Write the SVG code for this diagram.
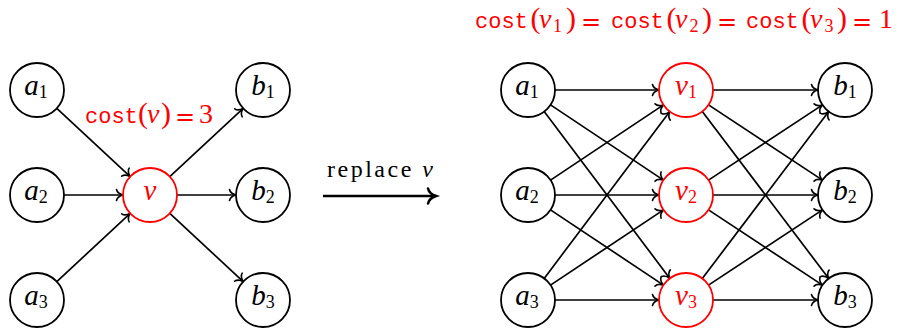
<svg xmlns="http://www.w3.org/2000/svg" width="899" height="330" viewBox="0 0 899 330">
<style>
.n circle{fill:#fff;stroke:#000;stroke-width:1.8}
.n.r circle{stroke:#f00}
.n text{font-family:"Liberation Serif","DejaVu Serif",serif;font-style:italic;font-size:29px;text-anchor:middle;fill:#000}
.n.r text{fill:#f00}
.n text tspan.s{font-style:normal;font-size:18px}
.e line{stroke:#000;stroke-width:1.7;fill:none;marker-end:url(#ar)}
.lab{font-family:"Liberation Serif","DejaVu Serif",serif;font-size:28px;fill:#f00}
.mono{font-family:"Liberation Mono","DejaVu Sans Mono",monospace;font-size:22px}
.p{font-size:30px}
.it{font-style:italic}
.sub{font-size:18px}
.eq{font-family:"DejaVu Sans",sans-serif;font-size:24px}
.rep{font-family:"Liberation Serif","DejaVu Serif",serif;font-size:24px;fill:#000}
</style>
<defs>
<marker id="ar" markerUnits="userSpaceOnUse" markerWidth="16" markerHeight="16" viewBox="-10 -8 12 16" refX="0" refY="0" orient="auto" overflow="visible">
<path d="M-6.5,-5.5 C-5.8,-2.2 -2.2,-0.6 0,0 C-2.2,0.6 -5.8,2.2 -6.5,5.5" fill="none" stroke="#000" stroke-width="1.6" stroke-linecap="round"/>
</marker>
<marker id="ar2" markerUnits="userSpaceOnUse" markerWidth="20" markerHeight="20" viewBox="-14 -10 16 20" refX="0" refY="0" orient="auto" overflow="visible">
<path d="M-8,-7.5 C-7,-3 -2.5,-0.8 0,0 C-2.5,0.8 -7,3 -8,7.5" fill="none" stroke="#000" stroke-width="2.5" stroke-linecap="round"/>
</marker>
</defs>

<g id="connectors" class="e">
<line x1="56.8" y1="108.4" x2="130.2" y2="176.6"/>
<line x1="64" y1="195" x2="123" y2="195"/>
<line x1="56.8" y1="281.6" x2="130.2" y2="213.4"/>
<line x1="169.8" y1="176.6" x2="243.2" y2="108.4"/>
<line x1="177" y1="195" x2="236" y2="195"/>
<line x1="169.8" y1="213.4" x2="243.2" y2="281.6"/>

<line x1="555" y1="90" x2="659" y2="90"/>
<line x1="550.5" y1="104.9" x2="663.5" y2="180.1"/>
<line x1="544.2" y1="111.6" x2="669.8" y2="278.4"/>
<line x1="550.5" y1="180.1" x2="663.5" y2="104.9"/>
<line x1="555" y1="195" x2="659" y2="195"/>
<line x1="550.5" y1="209.9" x2="663.5" y2="285.1"/>
<line x1="544.2" y1="278.4" x2="669.8" y2="111.6"/>
<line x1="550.5" y1="285.1" x2="663.5" y2="209.9"/>
<line x1="555" y1="300" x2="659" y2="300"/>

<line x1="713" y1="90" x2="818" y2="90"/>
<line x1="708.5" y1="104.9" x2="822.5" y2="180.1"/>
<line x1="702.3" y1="111.5" x2="828.7" y2="278.5"/>
<line x1="708.5" y1="180.1" x2="822.5" y2="104.9"/>
<line x1="713" y1="195" x2="818" y2="195"/>
<line x1="708.5" y1="209.9" x2="822.5" y2="285.1"/>
<line x1="702.3" y1="278.5" x2="828.7" y2="111.5"/>
<line x1="708.5" y1="285.1" x2="822.5" y2="209.9"/>
<line x1="713" y1="300" x2="818" y2="300"/>

<line x1="323" y1="196" x2="436" y2="196" style="stroke-width:2.5;marker-end:url(#ar2)"/>
</g>

<g id="L_a1" class="n"><circle cx="37" cy="90" r="27"/><text x="36" y="95">a<tspan class="s" dy="3">1</tspan></text></g>
<g id="L_a2" class="n"><circle cx="37" cy="195" r="27"/><text x="36" y="200">a<tspan class="s" dy="3">2</tspan></text></g>
<g id="L_a3" class="n"><circle cx="37" cy="300" r="27"/><text x="36" y="305">a<tspan class="s" dy="3">3</tspan></text></g>
<g id="L_v" class="n r"><circle cx="150" cy="195" r="27"/><text x="150" y="200">v</text></g>
<g id="L_b1" class="n"><circle cx="263" cy="90" r="27"/><text x="263" y="95">b<tspan class="s" dy="3">1</tspan></text></g>
<g id="L_b2" class="n"><circle cx="263" cy="195" r="27"/><text x="263" y="200">b<tspan class="s" dy="3">2</tspan></text></g>
<g id="L_b3" class="n"><circle cx="263" cy="300" r="27"/><text x="263" y="305">b<tspan class="s" dy="3">3</tspan></text></g>

<g id="R_a1" class="n"><circle cx="528" cy="90" r="27"/><text x="527" y="95">a<tspan class="s" dy="3">1</tspan></text></g>
<g id="R_a2" class="n"><circle cx="528" cy="195" r="27"/><text x="527" y="200">a<tspan class="s" dy="3">2</tspan></text></g>
<g id="R_a3" class="n"><circle cx="528" cy="300" r="27"/><text x="527" y="305">a<tspan class="s" dy="3">3</tspan></text></g>
<g id="R_v1" class="n r"><circle cx="686" cy="90" r="27"/><text x="686" y="95">v<tspan class="s" dy="3">1</tspan></text></g>
<g id="R_v2" class="n r"><circle cx="686" cy="195" r="27"/><text x="686" y="200">v<tspan class="s" dy="3">2</tspan></text></g>
<g id="R_v3" class="n r"><circle cx="686" cy="300" r="27"/><text x="686" y="305">v<tspan class="s" dy="3">3</tspan></text></g>
<g id="R_b1" class="n"><circle cx="845" cy="90" r="27"/><text x="845" y="95">b<tspan class="s" dy="3">1</tspan></text></g>
<g id="R_b2" class="n"><circle cx="845" cy="195" r="27"/><text x="845" y="200">b<tspan class="s" dy="3">2</tspan></text></g>
<g id="R_b3" class="n"><circle cx="845" cy="300" r="27"/><text x="845" y="305">b<tspan class="s" dy="3">3</tspan></text></g>

<g id="labels">
<text class="lab" y="123"><tspan class="mono" x="85">cost</tspan><tspan class="p" x="138">(</tspan><tspan class="it" x="147">v</tspan><tspan class="p" x="161">)</tspan><tspan class="eq" x="175" y="125">=</tspan><tspan x="199" y="123">3</tspan></text>
<text class="lab" y="28"><tspan class="mono" x="475">cost</tspan><tspan class="p" x="530.5">(</tspan><tspan class="it" x="539">v</tspan><tspan class="sub" x="553" y="32">1</tspan><tspan class="p" x="566" y="28">)</tspan><tspan class="eq" x="581" y="30">=</tspan><tspan class="mono" x="611" y="28">cost</tspan><tspan class="p" x="666.5">(</tspan><tspan class="it" x="675">v</tspan><tspan class="sub" x="689.5" y="32">2</tspan><tspan class="p" x="702" y="28">)</tspan><tspan class="eq" x="717" y="30">=</tspan><tspan class="mono" x="746" y="28">cost</tspan><tspan class="p" x="801.5">(</tspan><tspan class="it" x="810">v</tspan><tspan class="sub" x="824.5" y="32">3</tspan><tspan class="p" x="837" y="28">)</tspan><tspan class="eq" x="852" y="30">=</tspan><tspan x="879" y="28">1</tspan></text>
<text class="rep" x="327" y="177" textLength="106" lengthAdjust="spacing">replace <tspan class="it">v</tspan></text>
</g>
</svg>
